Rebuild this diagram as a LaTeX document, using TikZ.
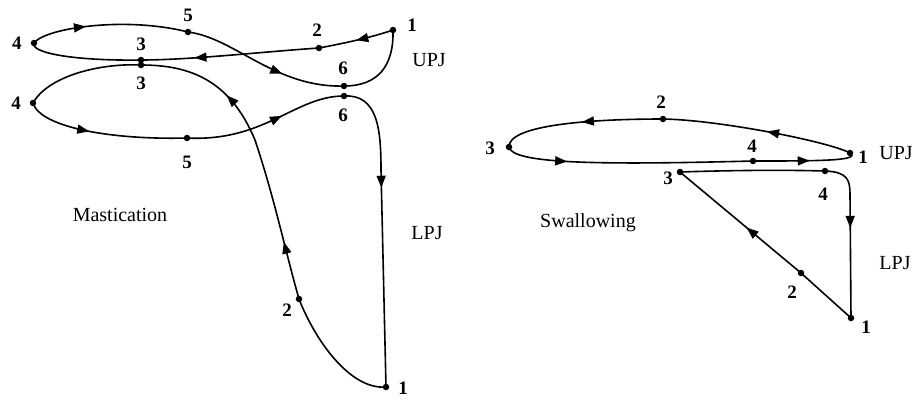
\documentclass[tikz,border=0pt]{standalone}
\usepackage{fontspec}
\setmainfont{Liberation Serif}
\usetikzlibrary{arrows.meta,decorations.markings}
\tikzset{
  dot/.style={circle,fill=black,inner sep=0pt,minimum size=6.5pt},
  num/.style={font=\fontsize{19}{19}\selectfont\bfseries,inner sep=0pt},
  lbl/.style={font=\fontsize{20}{20}\selectfont,inner sep=0pt},
  curve/.style={line width=1.6pt},
  arr/.style={postaction=decorate,decoration={markings,
     mark=at position #1 with {\arrow{Triangle[length=12pt,width=9pt]}}}},
  arrtwo/.style 2 args={postaction=decorate,decoration={markings,
     mark=at position #1 with {\arrow{Triangle[length=12pt,width=9pt]}},
     mark=at position #2 with {\arrow{Triangle[length=12pt,width=9pt]}}}}
}
\begin{document}
\begin{tikzpicture}[x=1pt,y=-1pt]
\useasboundingbox (0,0) rectangle (918,400);
% ---------- Mastication, upper loop
\node[dot] (u1) at (393,30) {};
\node[dot] (u2) at (319,48) {};
\node[dot] (u3) at (141,60) {};
\node[dot] (u4) at (34,43) {};
\node[dot] (u5) at (188,32) {};
\node[dot] (u6) at (344,86) {};
\draw[curve,arr=0.5] (u1.center) .. controls (370,38) and (340,44) .. (u2.center);
\draw[curve,arr=0.7] (u2.center) .. controls (260,52) and (190,60) .. (u3.center);
\draw[curve] (u3.center) .. controls (75,61) and (30,53) .. (u4.center);
\draw[curve,arr=0.35] (u4.center) .. controls (45,28) and (125,16) .. (u5.center);
\draw[curve,arr=0.62] (u5.center) .. controls (235,38) and (275,88) .. (u6.center);
\draw[curve] (u6.center) .. controls (378,86) and (394,66) .. (u1.center);
% ---------- Mastication, lower loop
\node[dot] (l3) at (141,65) {};
\node[dot] (l4) at (33,103) {};
\node[dot] (l5) at (187,138) {};
\node[dot] (l6) at (344,96) {};
\node[dot] (l1) at (386,387) {};
\node[dot] (l2) at (299,299) {};
\draw[curve] (l3.center) .. controls (100,63) and (48,76) .. (l4.center);
\draw[curve,arr=0.4] (l4.center) .. controls (40,127) and (110,140) .. (l5.center);
\draw[curve,arr=0.6] (l5.center) .. controls (265,142) and (295,96) .. (l6.center);
\draw[curve,arr=0.36] (l6.center) .. controls (378,94) and (381,130) .. (381,170) -- (l1.center);
\draw[curve] (l1.center) .. controls (350,390) and (315,340) .. (l2.center);
\draw[curve,arrtwo={0.19}{0.7}] (l2.center) .. controls (285,250) and (275,200) .. (255,140)
   .. controls (230,80) and (190,65) .. (l3.center);
% labels
\node[num] (tu1) at (412,25) {1};
\node[num] (tu2) at (317,30) {2};
\node[num] (tu3) at (141,44) {3};
\node[num] (tu4) at (17,43) {4};
\node[num] (tu5) at (188,15) {5};
\node[num] (tu6) at (343,68) {6};
\node[num] (tl3) at (141,83) {3};
\node[num] (tl4) at (16,103) {4};
\node[num] (tl5) at (187,162) {5};
\node[num] (tl6) at (343,115) {6};
\node[num] (tl2) at (287,310) {2};
\node[num] (tl1) at (403,388) {1};
\node[lbl] (mupj) at (429,60) {UPJ};
\node[lbl] (mlpj) at (427,233) {LPJ};
\node[lbl] (mast) at (120,215) {Mastication};
% ---------- Swallowing, upper loop
\node[dot] (s1) at (850,153) {};
\node[dot] (s2) at (663,119) {};
\node[dot] (s3) at (509,147) {};
\node[dot] (s4) at (753,161) {};
\draw[curve,arr=0.45] (s1.center) .. controls (830,142) and (720,120) .. (s2.center);
\draw[curve,arr=0.5] (s2.center) .. controls (590,119) and (508,125) .. (s3.center);
\draw[curve,arr=0.25] (s3.center) .. controls (512,164) and (600,165) .. (s4.center);
\draw[curve,arr=0.55] (s4.center) .. controls (815,161) and (862,161) .. (s1.center);
% ---------- Swallowing, lower path
\node[dot] (t3) at (680,172) {};
\node[dot] (t4) at (825,171) {};
\node[dot] (t1) at (851,318) {};
\node[dot] (t2) at (801,273) {};
\draw[curve] (t3.center) .. controls (740,170) and (790,170) .. (t4.center);
\draw[curve,arr=0.45] (t4.center) .. controls (848,172) and (850,180) .. (850,195) -- (t1.center);
\draw[curve] (t1.center) -- (t2.center);
\draw[curve,arr=0.45] (t2.center) -- (t3.center);
% labels
\node[num] (ts1) at (863,157) {1};
\node[num] (ts2) at (661,102) {2};
\node[num] (ts3) at (490,148) {3};
\node[num] (ts4) at (752,146) {4};
\node[num] (tt3) at (668,178) {3};
\node[num] (tt4) at (823,194) {4};
\node[num] (tt2) at (792,292) {2};
\node[num] (tt1) at (866,327) {1};
\node[lbl] (supj) at (896,153) {UPJ};
\node[lbl] (slpj) at (895,263) {LPJ};
\node[lbl] (swal) at (588,223) {Swallowing};
\end{tikzpicture}
\end{document}
